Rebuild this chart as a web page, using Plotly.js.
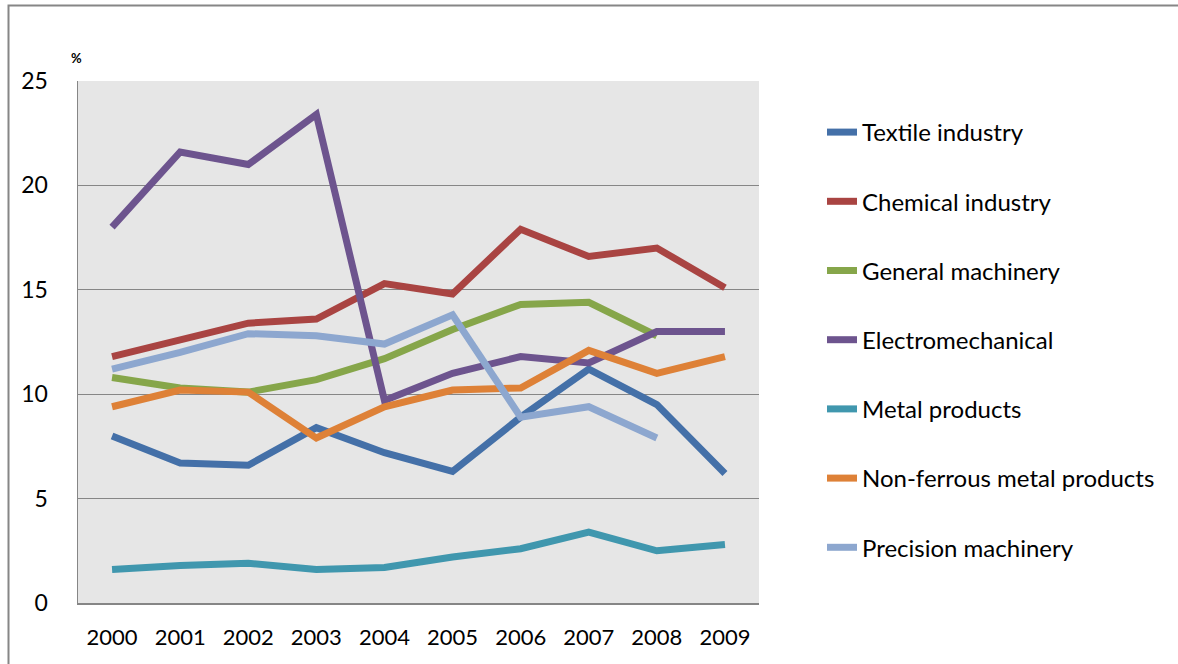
<!DOCTYPE html>
<html>
<head>
<meta charset="utf-8">
<script src="https://cdn.plot.ly/plotly-3.0.1.min.js"></script>
<style>html,body{margin:0;padding:0;background:#fff;}#chart{width:1178px;height:664px;}</style>
</head>
<body>
<div id="chart"></div>
<script>
const years = ['2000','2001','2002','2003','2004','2005','2006','2007','2008','2009'];
const textile = [8.0, 6.7, 6.6, 8.4, 7.2, 6.3, 8.9, 11.2, 9.5, 6.2];
const chemical = [11.8, 12.6, 13.4, 13.6, 15.3, 14.8, 17.9, 16.6, 17.0, 15.1];
const generalMachinery = [10.8, 10.3, 10.1, 10.7, 11.7, 13.1, 14.3, 14.4, 12.8, null];
const electromechanical = [18.0, 21.6, 21.0, 23.4, 9.7, 11.0, 11.8, 11.5, 13.0, 13.0];
const metalProducts = [1.6, 1.8, 1.9, 1.6, 1.7, 2.2, 2.6, 3.4, 2.5, 2.8];
const nonFerrous = [9.4, 10.2, 10.1, 7.9, 9.4, 10.2, 10.3, 12.1, 11.0, 11.8];
const precision = [11.2, 12.0, 12.9, 12.8, 12.4, 13.8, 8.9, 9.4, 7.9, null];
const seriesNames = ['Textile industry','Chemical industry','General machinery','Electromechanical','Metal products','Non-ferrous metal products','Precision machinery'];
const seriesValues = [textile, chemical, generalMachinery, electromechanical, metalProducts, nonFerrous, precision];
const colors = ['#4470A8','#A94442','#86A64A','#6D548E','#4097AE','#DE8137','#8DA7CF'];

const FONT = 'Lato, "Open Sans", sans-serif';
const traces = seriesNames.map((n,i)=>({
  type:'scatter', mode:'lines', name:n, x:years, y:seriesValues[i],
  legendgroup:'g'+i,
  line:{color:colors[i], width:7},
  connectgaps:false, hoverinfo:'skip'
}));

const L=78, T=81, W=1178, H=664, PW=759-78, PH=603-81;
const px = v => (v-L)/PW;
const py = v => (603-v)/PH;

const layout = {
  width:W, height:H,
  margin:{l:L, r:W-759, t:T, b:H-603},
  paper_bgcolor:'#ffffff', plot_bgcolor:'#e6e6e6',
  font:{family:FONT, color:'#000'},
  showlegend:true,
  legend:{x:px(822), xanchor:'left', y:py(110), yanchor:'top',
    font:{family:FONT, size:24, color:'#000'}, tracegroupgap:35, bgcolor:'rgba(0,0,0,0)'},
  xaxis:{type:'category', range:[-0.5,9.5], showgrid:false, showline:true, linecolor:'#868686', linewidth:1.5,
    ticks:'', tickfont:{size:22, family:FONT}, ticklabelstandoff:14, zeroline:false, fixedrange:true},
  yaxis:{range:[0,25], dtick:5, showgrid:true, gridcolor:'#868686', gridwidth:1.3, showline:true, linecolor:'#868686', linewidth:1.5,
    ticks:'', tickfont:{size:23, family:FONT}, ticklabelstandoff:24, zeroline:false, fixedrange:true},
  shapes:[
    {type:'rect', xref:'paper', yref:'paper', x0:px(8.5), x1:px(1200), y0:py(700), y1:py(5.5),
     line:{color:'#868686', width:2}, fillcolor:'rgba(0,0,0,0)', layer:'below'}
  ],
  annotations:[
    {xref:'paper', yref:'paper', x:px(76), y:py(58), text:'<b>%</b>', showarrow:false,
     font:{size:13, family:FONT, color:'#000'}, xanchor:'center', yanchor:'middle'}
  ]
};
Plotly.newPlot('chart', traces, layout, {displayModeBar:false, staticPlot:true});
</script>
</body>
</html>
